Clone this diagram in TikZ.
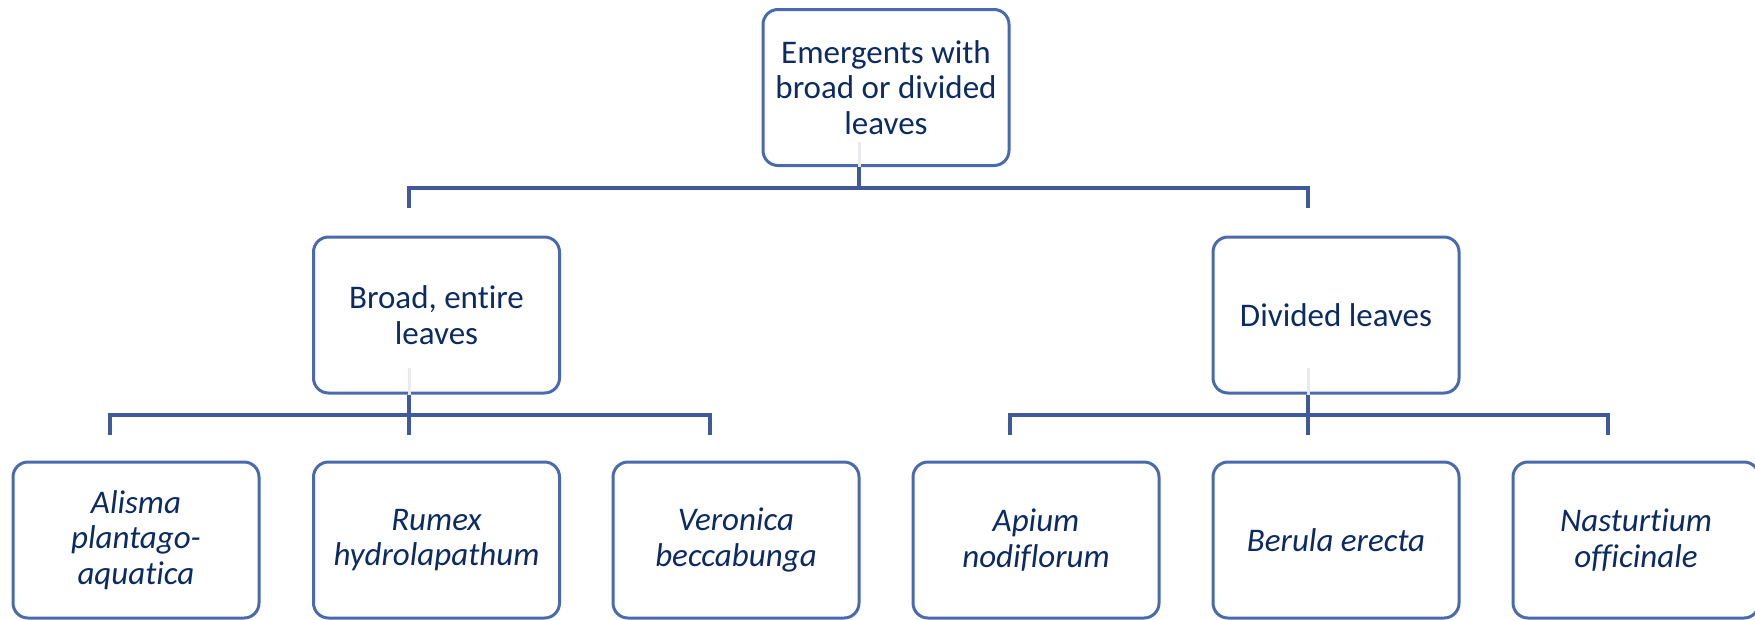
\documentclass[tikz,border=0pt]{standalone}
\usepackage{fontspec}
\setmainfont{Carlito}[Ligatures=NoCommon]
\definecolor{boxblue}{HTML}{4A6AAE}
\definecolor{linkblue}{HTML}{40599A}
\definecolor{navy}{HTML}{0C2B64}
\definecolor{ghost}{HTML}{E8EAF0}
\begin{document}
\begin{tikzpicture}[x=1pt,y=-1pt,
  box/.style={draw=boxblue, fill=white, line width=3pt, rounded corners=15pt,
    minimum width=246pt, minimum height=156pt, inner sep=0pt, align=center,
    text=navy, font=\fontsize{33}{35.5}\selectfont},
  leaf/.style={box, font=\fontsize{33}{35.5}\selectfont\itshape},
  conn/.style={draw=linkblue, line width=3.5pt},
  faint/.style={draw=ghost, line width=3pt}]
\useasboundingbox (0,0) rectangle (1755,619);

% root
\node[box] (root) at (886,87.5) {Emergents with\\broad or divided\\leaves};
% second level
\node[box] (broad) at (436.5,315) {Broad, entire\\leaves};
\node[box] (divided) at (1336,315) {Divided leaves};
% species
\node[leaf] (alisma)    at (136,540) {Alisma\\plantago-\\aquatica};
\node[leaf] (rumex)     at (436.5,540) {Rumex\\hydrolapathum};
\node[leaf] (veronica)  at (736,540) {Veronica\\beccabunga};
\node[leaf] (apium)     at (1036,540) {Apium\\nodiflorum};
\node[leaf] (berula)    at (1336,540) {Berula erecta};
\node[leaf] (nasturt)   at (1636,540) {Nasturtium\\officinale};

% faint stem ends showing through the boxes
\draw[faint] (859,142) -- (root.south -| 859,0);
\draw[faint] (409,368) -- (broad.south -| 409,0);
\draw[faint] (1308,368) -- (divided.south -| 1308,0);

% bus coordinates
\coordinate (b0)  at (859,188);
\coordinate (bl)  at (409,188);
\coordinate (br)  at (1308,188);
\coordinate (blx) at (409,208);
\coordinate (brx) at (1308,208);

\coordinate (c0)  at (409,415);
\coordinate (c1)  at (110,415);
\coordinate (c2)  at (710,415);
\coordinate (c1x) at (110,435);
\coordinate (c0x) at (409,435);
\coordinate (c2x) at (710,435);

\coordinate (d0)  at (1308,415);
\coordinate (d1)  at (1010,415);
\coordinate (d2)  at (1608,415);
\coordinate (d1x) at (1010,435);
\coordinate (d0x) at (1308,435);
\coordinate (d2x) at (1608,435);

% root to second level
\draw[conn] (root.south -| b0) -- (b0);
\draw[conn] (blx) -- (bl) -- (br) -- (brx);

% broad leaves branch
\draw[conn] (broad.south -| c0) -- (c0x);
\draw[conn] (c1x) -- (c1) -- (c2) -- (c2x);

% divided leaves branch
\draw[conn] (divided.south -| d0) -- (d0x);
\draw[conn] (d1x) -- (d1) -- (d2) -- (d2x);
\end{tikzpicture}
\end{document}
